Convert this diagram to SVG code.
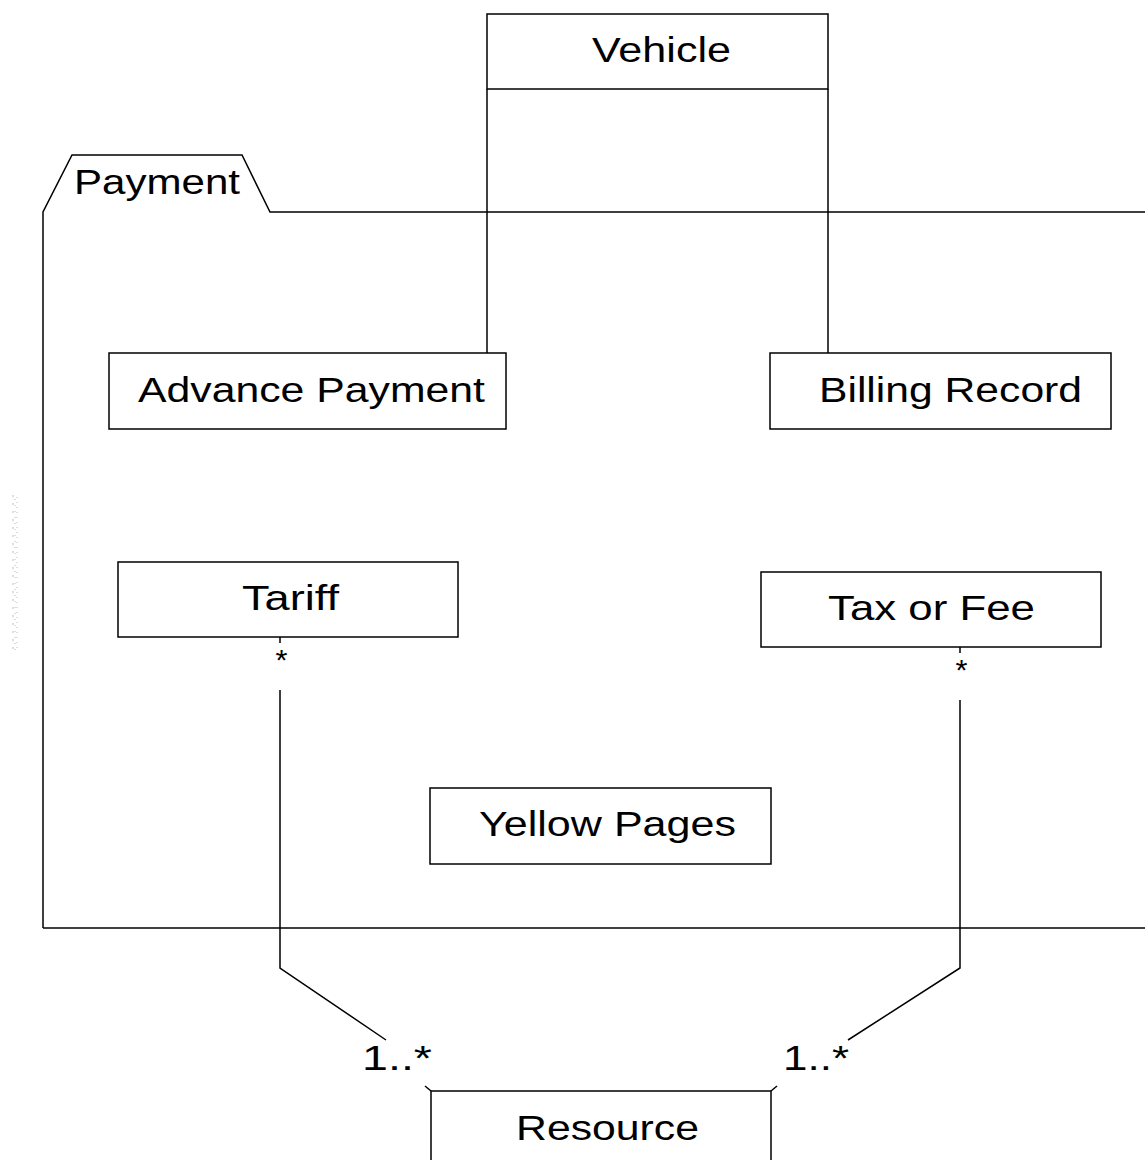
<svg xmlns="http://www.w3.org/2000/svg" width="1145" height="1160" viewBox="0 0 1145 1160">
<style>
.box{fill:#fff;stroke:#000;stroke-width:1.5}
.ln{fill:none;stroke:#000;stroke-width:1.5}
.t{font-family:"Liberation Sans",Arial,sans-serif;font-size:35px;fill:#000}
.m{font-family:"Liberation Sans",Arial,sans-serif;font-size:30px;fill:#000}
.faint{fill:none;stroke:#c8c8c8;stroke-width:1.2}
</style>
<rect width="1145" height="1160" fill="#fff"/>
<g id="faint-marks">
<line class="faint" x1="13" y1="495" x2="13" y2="655" stroke-dasharray="2 6"/>
<line class="faint" x1="15" y1="499" x2="15" y2="650" stroke-dasharray="1 5"/>
<line class="faint" x1="17" y1="497" x2="17" y2="652" stroke-dasharray="1 4"/>
</g>
<g id="package-payment">
<path class="ln" d="M43,928 L43,212 L72,155 L242,155 L270,212 L1145,212"/>
<line class="ln" x1="43" y1="928" x2="1145" y2="928"/>
<text class="t" x="74" y="194" textLength="166" lengthAdjust="spacingAndGlyphs">Payment</text>
</g>
<g id="vehicle">
<rect class="box" x="487" y="14" width="341" height="75"/>
<line class="ln" x1="487" y1="89" x2="487" y2="353"/>
<line class="ln" x1="828" y1="89" x2="828" y2="353"/>
<text class="t" x="592" y="62" textLength="139" lengthAdjust="spacingAndGlyphs">Vehicle</text>
</g>
<g id="advance-payment">
<rect class="box" x="109" y="353" width="397" height="76"/>
<text class="t" x="138" y="402" textLength="347" lengthAdjust="spacingAndGlyphs">Advance Payment</text>
</g>
<g id="billing-record">
<rect class="box" x="770" y="353" width="341" height="76"/>
<text class="t" x="819" y="402" textLength="263" lengthAdjust="spacingAndGlyphs">Billing Record</text>
</g>
<g id="tariff">
<rect class="box" x="118" y="562" width="340" height="75"/>
<text class="t" x="242" y="610" textLength="97" lengthAdjust="spacingAndGlyphs">Tariff</text>
</g>
<g id="tax-or-fee">
<rect class="box" x="761" y="572" width="340" height="75"/>
<text class="t" x="828" y="620" textLength="207" lengthAdjust="spacingAndGlyphs">Tax or Fee</text>
</g>
<g id="yellow-pages">
<rect class="box" x="430" y="788" width="341" height="76"/>
<text class="t" x="479" y="836" textLength="257" lengthAdjust="spacingAndGlyphs">Yellow Pages</text>
</g>
<g id="resource">
<rect class="box" x="431" y="1091" width="340" height="100"/>
<text class="t" x="516" y="1140" textLength="183" lengthAdjust="spacingAndGlyphs">Resource</text>
</g>
<g id="connectors">
<line class="ln" x1="280" y1="637" x2="280" y2="643"/>
<path class="ln" d="M280,690 L280,968 L386,1040"/>
<line class="ln" x1="425" y1="1086" x2="431" y2="1091"/>
<text class="m" x="275.5" y="670" textLength="12" lengthAdjust="spacingAndGlyphs">*</text>
<text class="t" x="362" y="1070" textLength="70" lengthAdjust="spacingAndGlyphs">1..*</text>
<line class="ln" x1="960" y1="647" x2="960" y2="653"/>
<path class="ln" d="M960,700 L960,968 L848,1040"/>
<line class="ln" x1="777" y1="1086" x2="771" y2="1091"/>
<text class="m" x="955.5" y="680" textLength="12" lengthAdjust="spacingAndGlyphs">*</text>
<text class="t" x="783" y="1070" textLength="66" lengthAdjust="spacingAndGlyphs">1..*</text>
</g>
</svg>
